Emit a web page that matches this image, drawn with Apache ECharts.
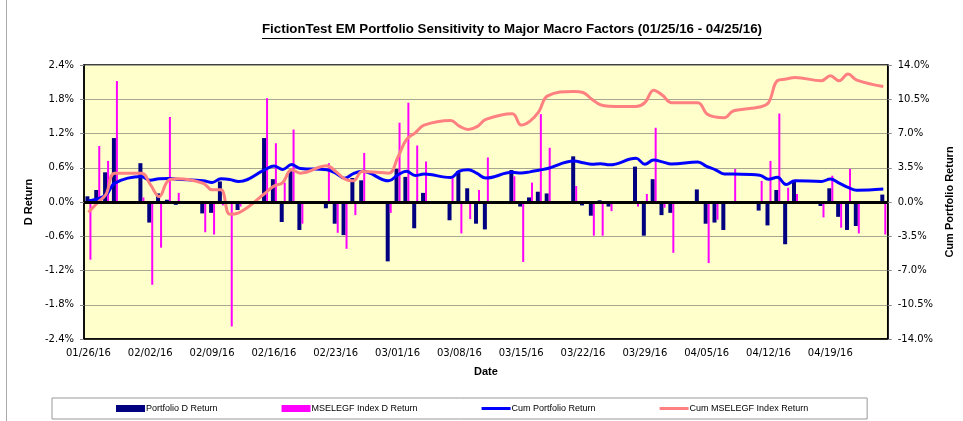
<!DOCTYPE html>
<html><head><meta charset="utf-8">
<script src="https://cdn.jsdelivr.net/npm/echarts@6/dist/echarts.min.js"></script>
<style>html,body{margin:0;padding:0;background:#fff}#c{width:963px;height:421px}</style>
</head><body><div id="c"></div>
<script>
// Calendar days on the date axis
const allDates = [
'01/26/16','01/27/16','01/28/16','01/29/16','01/30/16','01/31/16',
'02/01/16','02/02/16','02/03/16','02/04/16','02/05/16','02/06/16','02/07/16',
'02/08/16','02/09/16','02/10/16','02/11/16','02/12/16','02/13/16','02/14/16',
'02/15/16','02/16/16','02/17/16','02/18/16','02/19/16','02/20/16','02/21/16',
'02/22/16','02/23/16','02/24/16','02/25/16','02/26/16','02/27/16','02/28/16',
'02/29/16','03/01/16','03/02/16','03/03/16','03/04/16','03/05/16','03/06/16',
'03/07/16','03/08/16','03/09/16','03/10/16','03/11/16','03/12/16','03/13/16',
'03/14/16','03/15/16','03/16/16','03/17/16','03/18/16','03/19/16','03/20/16',
'03/21/16','03/22/16','03/23/16','03/24/16','03/25/16','03/26/16','03/27/16',
'03/28/16','03/29/16','03/30/16','03/31/16','04/01/16','04/02/16','04/03/16',
'04/04/16','04/05/16','04/06/16','04/07/16','04/08/16','04/09/16','04/10/16',
'04/11/16','04/12/16','04/13/16','04/14/16','04/15/16','04/16/16','04/17/16',
'04/18/16','04/19/16','04/20/16','04/21/16','04/22/16','04/23/16','04/24/16',
'04/25/16'];

// Trading days with data
const tradingDates = [
'01/26/16','01/27/16','01/28/16','01/29/16',
'02/01/16','02/02/16','02/03/16','02/04/16','02/05/16',
'02/08/16','02/09/16','02/10/16','02/11/16','02/12/16',
'02/15/16','02/16/16','02/17/16','02/18/16','02/19/16',
'02/22/16','02/23/16','02/24/16','02/25/16','02/26/16',
'02/29/16','03/01/16','03/02/16','03/03/16','03/04/16',
'03/07/16','03/08/16','03/09/16','03/10/16','03/11/16',
'03/14/16','03/15/16','03/16/16','03/17/16','03/18/16',
'03/21/16','03/22/16','03/23/16','03/24/16','03/25/16',
'03/28/16','03/29/16','03/30/16','03/31/16','04/01/16',
'04/04/16','04/05/16','04/06/16','04/07/16','04/08/16',
'04/11/16','04/12/16','04/13/16','04/14/16','04/15/16',
'04/18/16','04/19/16','04/20/16','04/21/16','04/22/16',
'04/25/16'];

// Portfolio D Return (%)
const portfolioD = [
0.10,0.21,0.52,1.12,
0.68,-0.36,0.15,0.04,-0.05,
-0.20,-0.19,0.36,-0.02,-0.14,
1.12,0.40,-0.35,0.54,-0.49,
-0.11,-0.38,-0.58,0.42,0.38,
-1.04,0.58,0.44,-0.46,0.16,
-0.32,0.54,0.24,-0.38,-0.48,
0.56,-0.08,0.08,0.18,0.15,
0.80,-0.06,-0.24,0.03,-0.08,
0.62,-0.59,0.40,-0.23,-0.19,
0.22,-0.38,-0.36,-0.49,-0.03,
-0.15,-0.41,0.21,-0.74,0.36,
-0.07,0.24,-0.26,-0.49,-0.42,
0.13];

// MSELEGF Index D Return (%)
const indexD = [
-1.01,0.98,0.72,2.12,
0.08,-1.45,-0.80,1.49,0.16,
-0.53,-0.57,-0.06,-2.18,-0.08,
1.82,1.03,0.34,1.27,-0.38,
0.68,-0.54,-0.82,-0.23,0.86,
-0.19,1.39,1.74,0.99,0.71,
0.42,-0.55,-0.30,0.21,0.78,
0.45,-1.05,0.34,1.54,0.95,
0.28,-0.03,-0.59,-0.59,-0.16,
-0.08,0.14,1.30,-0.10,-0.89,
-0.02,-1.07,-0.31,0.01,0.58,
0.37,0.72,1.55,0.25,0.14,
-0.27,0.46,-0.45,0.58,-0.55,
-0.57];

// Cum Portfolio Return (%)
const cumPortfolio = [
0.10,0.31,0.72,1.93,
2.60,2.22,2.38,2.40,2.33,
2.18,2.00,2.37,2.30,2.10,
3.30,3.67,3.33,3.82,3.42,
3.30,2.95,2.42,2.90,3.14,
2.16,2.75,3.13,2.70,2.85,
2.50,3.15,3.30,2.92,2.44,
3.03,2.97,3.08,3.25,3.42,
4.18,4.02,3.86,3.92,3.80,
4.46,3.86,4.28,4.10,3.88,
4.10,3.64,3.29,2.86,2.85,
2.74,2.32,2.52,1.78,2.18,
2.10,2.34,1.93,1.50,1.20,
1.32];

// Cum MSELEGF Index Return (%)
const cumIndex = [
-1.06,-0.10,0.79,2.95,
2.95,1.80,0.55,2.16,2.37,
1.92,1.24,1.24,-1.24,-1.10,
0.90,1.62,1.99,3.29,2.95,
3.70,3.12,2.37,2.16,3.12,
2.95,4.50,6.38,7.07,7.86,
8.34,7.75,7.41,7.70,8.44,
9.02,7.86,8.27,9.23,10.84,
11.29,11.19,10.50,9.92,9.78,
9.75,10.15,11.43,10.90,10.15,
10.15,9.02,8.68,8.61,9.30,
9.71,10.15,12.39,12.56,12.73,
12.39,12.90,12.39,13.07,12.46,
11.80];

function onAxis(vals){
  const m = {};
  tradingDates.forEach((d,i)=>{ m[d]=vals[i]; });
  return allDates.map(d => (d in m) ? m[d] : null);
}

const titleText = 'FictionTest EM Portfolio Sensitivity to Major Macro Factors (01/25/16 - 04/25/16)';
const titleSize = 13.3;
const ctx = document.createElement('canvas').getContext('2d');
ctx.font = 'bold ' + titleSize + 'px "Liberation Sans"';
const tw = ctx.measureText(titleText).width;
const tx = 512 - tw/2;

const chart = echarts.init(document.getElementById('c'), null, {renderer:'canvas'});
const axisFont = {fontFamily:'DejaVu Sans', fontSize:10, color:'#000'};
const nameFont = {fontFamily:'Liberation Sans', fontSize:11, fontWeight:'bold', color:'#000'};
const lineIcon = 'path://M0,0L29,0L29,3L0,3Z';

chart.setOption({
  animation:false,
  backgroundColor:'#fff',
  title:{text:titleText, left:tx, top:23, padding:0,
    textStyle:{fontFamily:'Liberation Sans', fontSize:titleSize, fontWeight:'bold', color:'#000'}},
  graphic:[
    {type:'line', shape:{x1:tx, y1:38.5, x2:tx+tw, y2:38.5}, style:{stroke:'#000', lineWidth:1}},
    {type:'line', shape:{x1:6.5, y1:0, x2:6.5, y2:421}, style:{stroke:'#aaa', lineWidth:1}}
  ],
  grid:{left:84, right:73, top:65, bottom:82, show:true, backgroundColor:'#FFFFCC', borderColor:'#000', borderWidth:1.5},
  legend:{
    left:52, top:398, padding:[6,59,6,64], itemGap:64, itemWidth:29, itemHeight:7,
    borderColor:'#999', borderWidth:1, backgroundColor:'#fff',
    textStyle:{fontFamily:'Liberation Sans', fontSize:9, color:'#000', padding:[0,0,0,-4]},
    data:[
      {name:'Portfolio D Return', icon:'rect'},
      {name:'MSELEGF Index D Return', icon:'rect'},
      {name:'Cum Portfolio Return', icon:lineIcon},
      {name:'Cum MSELEGF Index Return', icon:lineIcon}
    ]
  },
  xAxis:{
    type:'category', data:allDates, boundaryGap:true,
    name:'Date', nameLocation:'middle', nameGap:27, nameTextStyle:nameFont,
    axisLine:{onZero:false, lineStyle:{color:'#000', width:1.5}},
    axisTick:{show:false},
    axisLabel:Object.assign({interval:6, margin:9}, axisFont),
    splitLine:{show:false}
  },
  yAxis:[
    {type:'value', min:-2.4, max:2.4, interval:0.6,
      name:'D Return', nameLocation:'middle', nameGap:43, nameRotate:90, nameTextStyle:nameFont,
      axisLine:{show:true, lineStyle:{color:'#000', width:1.5}},
      axisTick:{show:true, length:4, lineStyle:{color:'#888'}},
      axisLabel:Object.assign({margin:10, formatter:v=>v.toFixed(1)+'%'}, axisFont),
      splitLine:{show:true, lineStyle:{color:'#A8A890', width:1}}
    },
    {type:'value', min:-14, max:14, interval:3.5, position:'right',
      name:'Cum Portfolio Return', nameLocation:'middle', nameGap:51, nameRotate:90, nameTextStyle:nameFont,
      axisLine:{show:true, lineStyle:{color:'#000', width:1.5}},
      axisTick:{show:true, length:4, lineStyle:{color:'#888'}},
      axisLabel:Object.assign({margin:10, formatter:v=>v.toFixed(1)+'%'}, axisFont),
      splitLine:{show:false}
    }
  ],
  series:[
    {name:'Portfolio D Return', type:'bar', data:onAxis(portfolioD), barWidth:4, barGap:'0%',
      itemStyle:{color:'#000080'},
      markLine:{silent:true, symbol:'none', label:{show:false},
        lineStyle:{color:'#000', width:3, type:'solid'}, data:[{yAxis:0}]}},
    {name:'MSELEGF Index D Return', type:'bar', data:onAxis(indexD), barWidth:2, barGap:'0%',
      itemStyle:{color:'#FF00FF'}},
    {name:'Cum Portfolio Return', type:'line', yAxisIndex:1, data:onAxis(cumPortfolio),
      connectNulls:true, smooth:0.4, symbol:'none', lineStyle:{color:'#0000FF', width:3}, itemStyle:{color:'#0000FF'}},
    {name:'Cum MSELEGF Index Return', type:'line', yAxisIndex:1, data:onAxis(cumIndex),
      connectNulls:true, smooth:0.4, symbol:'none', lineStyle:{color:'#FF8080', width:3}, itemStyle:{color:'#FF8080'}}
  ]
});
</script></body></html>
